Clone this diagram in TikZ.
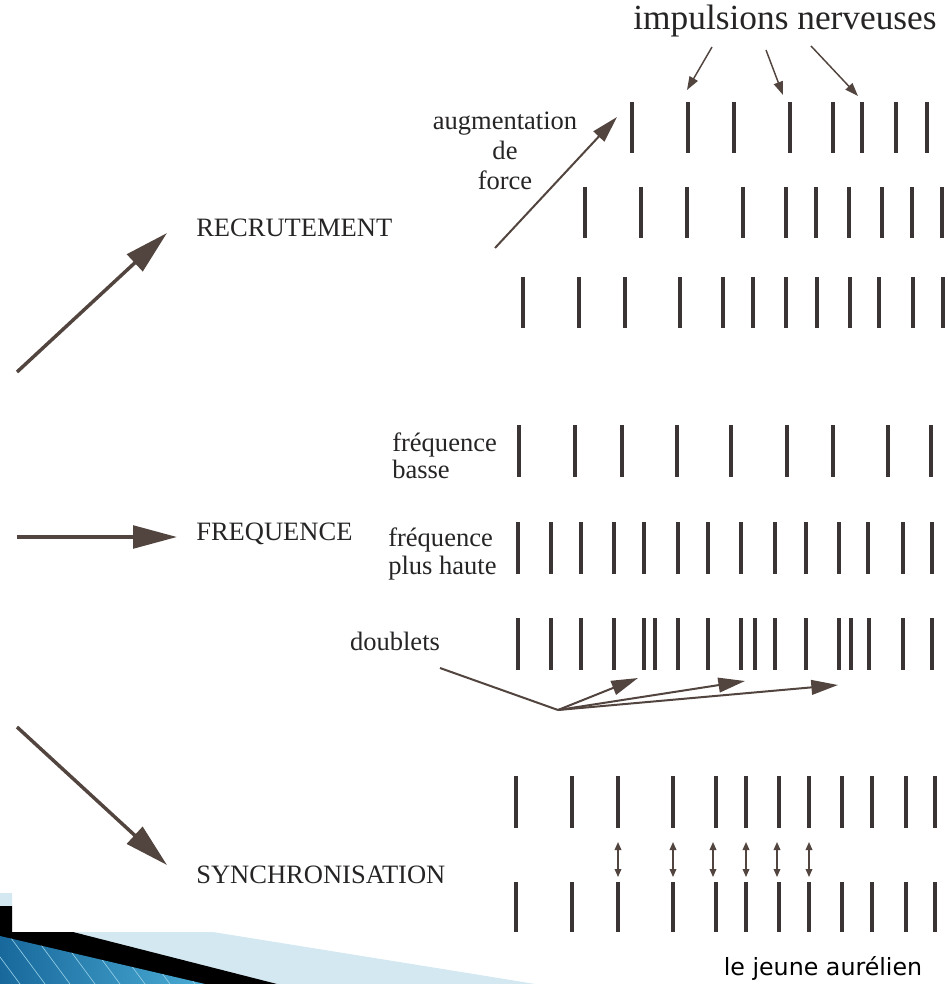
\documentclass[tikz,border=0pt]{standalone}
\usepackage{fontspec}
\setmainfont{Liberation Serif}
\newfontfamily\creditfont{DejaVu Sans}
\usetikzlibrary{arrows.meta}

\definecolor{spikeink}{RGB}{58,52,52}
\definecolor{arrowink}{RGB}{82,68,62}
\definecolor{textink}{RGB}{38,36,36}
\definecolor{paleblue}{RGB}{212,232,241}
\definecolor{deepblue}{RGB}{24,104,156}
\definecolor{skyblue}{RGB}{74,172,212}

\tikzset{
  spike/.style={draw=spikeink, line width=3pt},
  bigarrow/.style={draw=arrowink, line width=2.6pt, -{Triangle[length=33pt,width=17pt]}},
  midarrow/.style={draw=arrowink, line width=1.5pt, -{Triangle[length=20pt,width=11pt]}},
  smallarrow/.style={draw=arrowink, line width=1.1pt, -{Triangle[length=10pt,width=7pt]}},
  syncarrow/.style={draw=arrowink, line width=1pt, {Triangle[length=6pt,width=5pt]}-{Triangle[length=6pt,width=5pt]}},
  label/.style={text=textink, inner sep=0.75pt, font=\fontsize{19.9}{22.5}\selectfont},
}

\begin{document}
\begin{tikzpicture}[x=0.75pt,y=0.75pt,yscale=-1,xscale=1]
\useasboundingbox (0,0) rectangle (948,984);

%Shape: slide corner
\fill[paleblue] (0,893) -- (12,893) -- (12,932) -- (213,932) -- (480,975) -- (535,984) -- (0,984) -- cycle ;
\fill[black] (0,906) -- (12,906) -- (12,932) -- (73,932) -- (277,984) -- (0,984) -- cycle ;
\fill[left color=deepblue, right color=skyblue] (0,936) -- (205,984) -- (0,984) -- cycle ;
\begin{scope}
\clip (0,936) -- (205,984) -- (0,984) -- cycle ;
\foreach \s in {20,45,70,95,120,145,170,195}
  \draw[skyblue!60, line width=0.5pt] (\s,984) -- (\s-40,930) ;
\end{scope}

% Text Node
\draw (785,30) node [anchor=base][label, font=\fontsize{26.5}{30}\selectfont] (imp) {impulsions nerveuses};
% Text Node
\draw (505,151) node [label, align=center] (aug) {augmentation\\de\\force};
% Text Node
\draw (195,237) node [anchor=base west][label] (rec) {RECRUTEMENT};
% Text Node
\draw (195,540) node [anchor=base west][label] (freq) {FREQUENCE};
% Text Node
\draw (195,883) node [anchor=base west][label] (sync) {SYNCHRONISATION};
% Text Node
\draw (391,456) node [anchor=west][label, align=left, font=\fontsize{19.9}{20.3}\selectfont] (basse) {fréquence\\basse};
% Text Node
\draw (387,554) node [anchor=west][label, align=left, font=\fontsize{19.9}{20.3}\selectfont] (haute) {fréquence\\plus haute};
% Text Node
\draw (395,641) node [label] (dbl) {doublets};
% Text Node
\draw (823,968) node [text=black, inner sep=0.75pt, font=\creditfont\fontsize{17.8}{20}\selectfont] (credit) {le jeune aurélien};

%Straight Lines: recrutement
\foreach \x in {632,688,734,790,833,862,896,927}
  \draw[spike] (\x,102) -- (\x,153) ;
\foreach \x in {585,641,687,743,786,816,849,882,912,942}
  \draw[spike] (\x,187) -- (\x,238) ;
\foreach \x in {523,579,625,680,723,753,786,817,850,879,913,943}
  \draw[spike] (\x,277) -- (\x,328) ;

%Straight Lines: frequence
\foreach \x in {519,575,622,677,731,787,833,888,931}
  \draw[spike] (\x,425) -- (\x,477) ;
\foreach \x in {518,551,581,614,644,678,708,741,775,806,839,868,903,932}
  \draw[spike] (\x,522) -- (\x,574) ;
\foreach \x in {518,551,581,614,644,655,678,708,741,755,775,806,839,851,869,903,932}
  \draw[spike] (\x,618) -- (\x,670) ;

%Straight Lines: synchronisation
\foreach \x in {516,572,618,673,716,746,779,809,842,872,906,935}
  {\draw[spike] (\x,776) -- (\x,828) ;
   \draw[spike] (\x,882) -- (\x,932) ;}
\foreach \x in {618,673,713,746,777,809}
  \draw[syncarrow] (\x,842) -- (\x,877) ;

%Straight Lines: arrows
\coordinate (recfrom) at (17,372) ;
\coordinate (rectip) at (167,233) ;
\coordinate (freqfrom) at (17,537) ;
\coordinate (freqtip) at (177,537) ;
\coordinate (syncfrom) at (17,727) ;
\coordinate (synctip) at (167,865) ;
\draw[bigarrow] (recfrom) -- (rectip) ;
\draw[bigarrow] (freqfrom) -- (freqtip) ;
\draw[bigarrow] (syncfrom) -- (synctip) ;

\coordinate (augfrom) at (495,248) ;
\coordinate (augtip) at (617,117) ;
\draw[midarrow] (augfrom) -- (augtip) ;

\coordinate (imp1) at (712,47) ;
\coordinate (imp2) at (766,50) ;
\coordinate (imp3) at (811,46) ;
\draw[smallarrow] (imp1) -- (687,90) ;
\draw[smallarrow] (imp2) -- (783,95) ;
\draw[smallarrow] (imp3) -- (858,96) ;

\coordinate (dblfrom) at (440,668) ;
\coordinate (dblknee) at (558,710) ;
\draw[draw=arrowink, line width=1.5pt] (dblfrom) -- (dblknee) ;
\draw[midarrow] (dblknee) -- (638,678) ;
\draw[midarrow] (dblknee) -- (745,681) ;
\draw[midarrow] (dblknee) -- (838,685) ;

\end{tikzpicture}
\end{document}
